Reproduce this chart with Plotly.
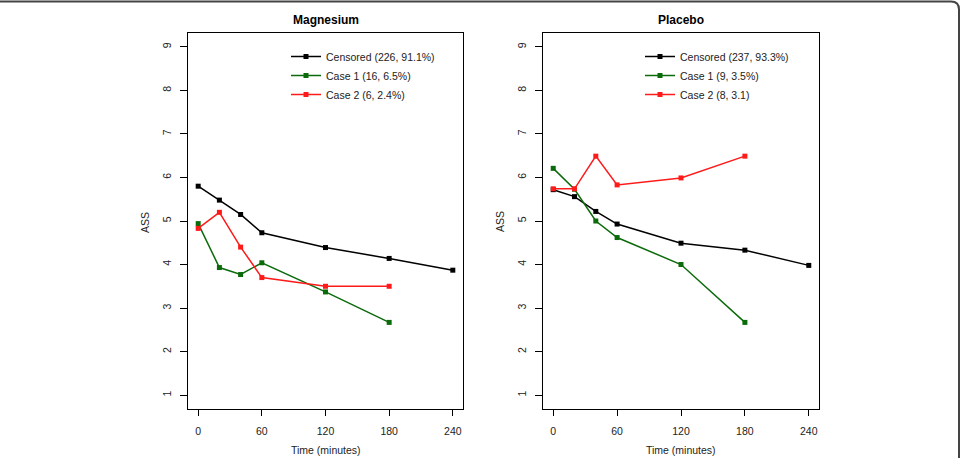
import plotly.graph_objects as go

W, H = 965, 458

time_min = [0, 20, 40, 60, 120, 180, 240]

# Magnesium group
mg_censored = [5.80, 5.48, 5.15, 4.73, 4.39, 4.14, 3.87]
mg_case1 = [4.94, 3.93, 3.77, 4.04, 3.37, 2.67]
mg_case2 = [4.83, 5.20, 4.40, 3.70, 3.50, 3.50]

# Placebo group
pl_censored = [5.72, 5.56, 5.22, 4.93, 4.49, 4.33, 3.98]
pl_case1 = [6.21, 5.73, 5.00, 4.62, 4.00, 2.67]
pl_case2 = [5.74, 5.74, 6.49, 5.83, 5.99, 6.49]

mg_names = ["Censored (226, 91.1%)", "Case 1 (16, 6.5%)", "Case 2 (6, 2.4%)"]
pl_names = ["Censored (237, 93.3%)", "Case 1 (9, 3.5%)", "Case 2 (8, 3.1)"]
panel_titles = ["Magnesium", "Placebo"]
x_ticks = [0, 60, 120, 180, 240]
y_ticks = [1, 2, 3, 4, 5, 6, 7, 8, 9]

colors = ["#000000", "#0b6b0b", "#ff1a1a"]
FONT = "Liberation Sans, Arial, Helvetica, sans-serif"

fig = go.Figure()

panels = [
    (("x", "y"), "legend", [mg_censored, mg_case1, mg_case2], mg_names),
    (("x2", "y2"), "legend2", [pl_censored, pl_case1, pl_case2], pl_names),
]
for (xa, ya), leg, series, names in panels:
    for vals, name, col in zip(series, names, colors):
        fig.add_trace(go.Scatter(
            x=time_min[:len(vals)], y=vals, name=name,
            mode="lines+markers", xaxis=xa, yaxis=ya, legend=leg,
            line=dict(color=col, width=1.5),
            marker=dict(symbol="square", size=5, color=col),
        ))

# pixel-derived domains
def px_x(p):
    return p / W

def px_y(p):
    return (H - p) / H

ydom = [px_y(409), px_y(33)]
xdoms = [[px_x(188), px_x(463)], [px_x(543), px_x(819)]]

axis_common = dict(
    showline=True, mirror=True, linecolor="black", linewidth=1,
    ticks="outside", tickcolor="black", tickwidth=1,
    showgrid=False, zeroline=False,
    tickfont=dict(family=FONT, size=10.5, color="#222"),
)
for i, xd in enumerate(xdoms):
    sfx = "" if i == 0 else str(i + 1)
    fig.update_layout(**{
        "xaxis" + sfx: dict(domain=xd, range=[-9.6, 249.6], tickvals=x_ticks,
                            ticklen=6, ticklabelstandoff=6,
                            anchor="y" + sfx, **axis_common),
        "yaxis" + sfx: dict(domain=ydom, range=[0.68, 9.32], tickvals=y_ticks,
                            ticklen=7, tickangle=-90, ticklabelstandoff=5,
                            anchor="x" + sfx, **axis_common),
    })

annotations = []
for i, xd in enumerate(xdoms):
    cx = (xd[0] + xd[1]) / 2
    annotations.append(dict(text="<b>" + panel_titles[i] + "</b>", x=cx, y=px_y(20),
                            xref="paper", yref="paper", showarrow=False,
                            xanchor="center", yanchor="middle",
                            font=dict(family=FONT, size=12, color="black")))
    annotations.append(dict(text="Time (minutes)", x=cx, y=px_y(450),
                            xref="paper", yref="paper", showarrow=False,
                            xanchor="center", yanchor="middle",
                            font=dict(family=FONT, size=10.5, color="#222")))
    annotations.append(dict(text="ASS", x=xd[0] - 43 / W, y=px_y(222),
                            xref="paper", yref="paper", showarrow=False,
                            xanchor="center", yanchor="middle", textangle=-90,
                            font=dict(family=FONT, size=10.5, color="#222")))

leg_common = dict(bgcolor="rgba(0,0,0,0)", borderwidth=0, itemwidth=30,
                  font=dict(family=FONT, size=10.5, color="#222"),
                  xanchor="left", yanchor="top", tracegroupgap=0)

# outer rounded frame
r = 8
x0, x1 = px_x(-10), px_x(959)
yt, yb = px_y(1.5), px_y(470)
rx, ry = r / W, r / H
frame = (f"M {x0},{yt} L {x1 - rx},{yt} Q {x1},{yt} {x1},{yt - ry} "
         f"L {x1},{yb}")

fig.update_layout(
    width=W, height=H,
    margin=dict(l=0, r=0, t=0, b=0),
    paper_bgcolor="white", plot_bgcolor="white",
    showlegend=True,
    legend=dict(x=px_x(326 - 40), y=px_y(42), **leg_common),
    legend2=dict(x=px_x(680 - 40), y=px_y(42), **leg_common),
    annotations=annotations,
    shapes=[dict(type="path", path=frame, xref="paper", yref="paper",
                 line=dict(color="#444", width=2))],
)

fig.write_html("out.html")
